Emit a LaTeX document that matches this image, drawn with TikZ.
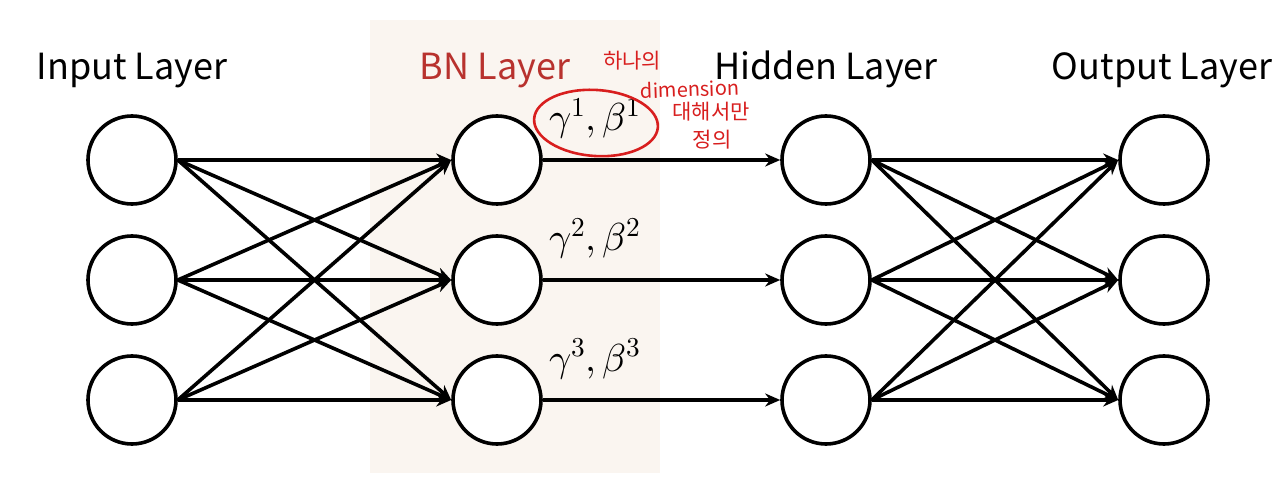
\documentclass[tikz,border=0pt]{standalone}
\usepackage{fontspec}
\usepackage{unicode-math}
\setsansfont{Noto Sans CJK KR}
\newfontfamily\krfont{Noto Sans CJK KR}
\usetikzlibrary{arrows.meta}
\definecolor{bnbg}{HTML}{FAF5F0}
\definecolor{bnred}{HTML}{B8322E}
\definecolor{penred}{HTML}{D81E1E}
\begin{document}
\begin{tikzpicture}[x=1pt,y=-1pt,
  neuron/.style={circle,draw,line width=3.6pt,minimum size=88pt,inner sep=0pt,fill=white},
  conn/.style={line width=3.6pt,-{Stealth[length=15pt,width=13pt]}},
  layerlabel/.style={font=\fontsize{36}{40}\selectfont\sffamily,anchor=base,inner sep=0pt},
  param/.style={font=\fontsize{39}{44}\selectfont,anchor=base west,inner sep=0pt},
  note/.style={font=\fontsize{21}{24}\selectfont\krfont,text=penred,inner sep=0pt}]
\useasboundingbox (0,0) rectangle (1280,478);
\fill[white] (0,0) rectangle (1280,478);
\fill[bnbg] (370,20) rectangle (660,473);

% labels
\node[layerlabel] (linput) at (132,80) {Input Layer};
\node[layerlabel,text=bnred] (lbn) at (495,80) {BN Layer};
\node[layerlabel] (lhidden) at (826,80) {Hidden Layer};
\node[layerlabel] (loutput) at (1162,80) {Output Layer};

% neurons
\foreach \i/\y in {1/160,2/280,3/400}{
  \node[neuron] (in\i) at (132,\y) {};
  \node[neuron] (bn\i) at (497,\y) {};
  \node[neuron] (hd\i) at (826,\y) {};
  \node[neuron] (out\i) at (1164,\y) {};
}

% connections
\foreach \i in {1,2,3}{
  \foreach \j in {1,2,3}{
    \draw[conn] (in\i.east) -- (bn\j.west);
    \draw[conn] (hd\i.east) -- (out\j.west);
  }
  \draw[conn] (bn\i.east) -- (hd\i.west);
}

% parameters
\node[param] (p1) at (549,131) {$\gamma^1,\beta^1$};
\node[param] (p2) at (549,251) {$\gamma^2,\beta^2$};
\node[param] (p3) at (549,371) {$\gamma^3,\beta^3$};

% handwritten note
\draw[penred,line width=2.6pt,rotate around={-4:(596,123)}] (596,123) ellipse [x radius=62pt,y radius=33pt];
\node[note] (n1) at (632,61) {하나의};
\node[note,font=\fontsize{20}{24}\selectfont\krfont,rotate=2] (n2) at (690,89) {dimension};
\node[note] (n3) at (711,112) {대해서만};
\node[note] (n4) at (712,140) {정의};
\end{tikzpicture}
\end{document}
